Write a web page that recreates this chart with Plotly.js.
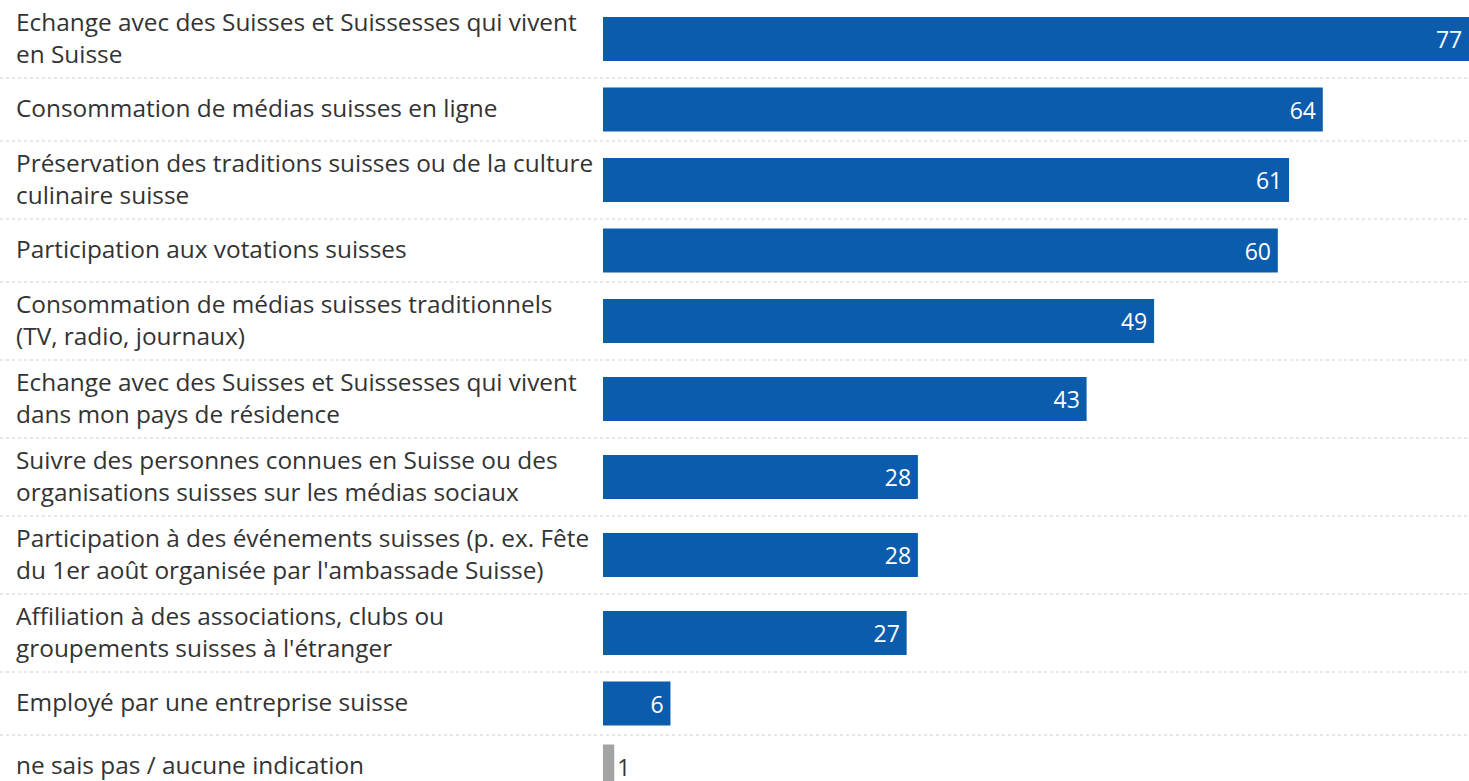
<!DOCTYPE html>
<html>
<head>
<meta charset="utf-8">
<script src="https://cdn.plot.ly/plotly-3.0.1.min.js"></script>
<style>html,body{margin:0;padding:0;background:#fff;}#chart{width:1469px;height:781px;}</style>
</head>
<body>
<div id="chart"></div>
<script>
const categories = [
  "Echange avec des Suisses et Suissesses qui vivent<br>en Suisse",
  "Consommation de médias suisses en ligne",
  "Préservation des traditions suisses ou de la culture<br>culinaire suisse",
  "Participation aux votations suisses",
  "Consommation de médias suisses traditionnels<br>(TV, radio, journaux)",
  "Echange avec des Suisses et Suissesses qui vivent<br>dans mon pays de résidence",
  "Suivre des personnes connues en Suisse ou des<br>organisations suisses sur les médias sociaux",
  "Participation à des événements suisses (p. ex. Fête<br>du 1er août organisée par l'ambassade Suisse)",
  "Affiliation à des associations, clubs ou<br>groupements suisses à l'étranger",
  "Employé par une entreprise suisse",
  "ne sais pas / aucune indication"
];
const values = [77, 64, 61, 60, 49, 43, 28, 28, 27, 6, 1];
const noAnswerCategory = "ne sais pas / aucune indication";

// layout: row heights depend on the number of label lines (axis units = px)
const W = 1469, H = 781;
const top0 = -2;
const rowH = categories.map(c => c.split("<br>").length > 1 ? 78 : 63);
const centers = [], bounds = [];
let acc = top0;
rowH.forEach(h => { centers.push(acc + h / 2); acc += h; bounds.push(acc); });

const blue = "#0b5cad", grey = "#a3a3a3";
const colors = categories.map(c => c === noAnswerCategory ? grey : blue);
const textpos = categories.map(c => c === noAnswerCategory ? "outside" : "inside");
const labelFont = "'Open Sans', sans-serif";

const trace = {
  type: "bar",
  orientation: "h",
  x: values,
  y: centers,
  width: 44,
  marker: { color: colors, line: { width: 0 } },
  text: values.map((v, i) => textpos[i] === "inside" ? v + "\u2009" : String(v)),
  textposition: textpos,
  insidetextanchor: "end",
  constraintext: "none",
  cliponaxis: false,
  insidetextfont: { family: labelFont, size: 23, color: "#ffffff" },
  outsidetextfont: { family: labelFont, size: 23, color: "#333333" },
  hoverinfo: "none"
};

const shapes = bounds.slice(0, -1).map(b => ({
  type: "line", xref: "paper", yref: "y", x0: 0, x1: 1, y0: b, y1: b,
  line: { color: "#cfcfcf", width: 1, dash: "dot" }
}));

const annotations = categories.map((c, i) => ({
  xref: "paper", yref: "y", x: 0, y: centers[i],
  xanchor: "left", yanchor: "middle", align: "left",
  xshift: 14, yshift: 2, showarrow: false, text: c,
  font: { family: labelFont, size: 24.4, color: "#333333" }
}));

const layout = {
  width: W, height: H,
  margin: { l: 0, r: 0, t: 0, b: 0, pad: 0 },
  paper_bgcolor: "#ffffff", plot_bgcolor: "#ffffff",
  showlegend: false,
  xaxis: { domain: [603 / W, 1], range: [0, 77], visible: false, fixedrange: true },
  yaxis: { range: [top0 + H, top0], visible: false, fixedrange: true },
  shapes: shapes,
  annotations: annotations
};

Plotly.newPlot("chart", [trace], layout, { staticPlot: true });
</script>
</body>
</html>
